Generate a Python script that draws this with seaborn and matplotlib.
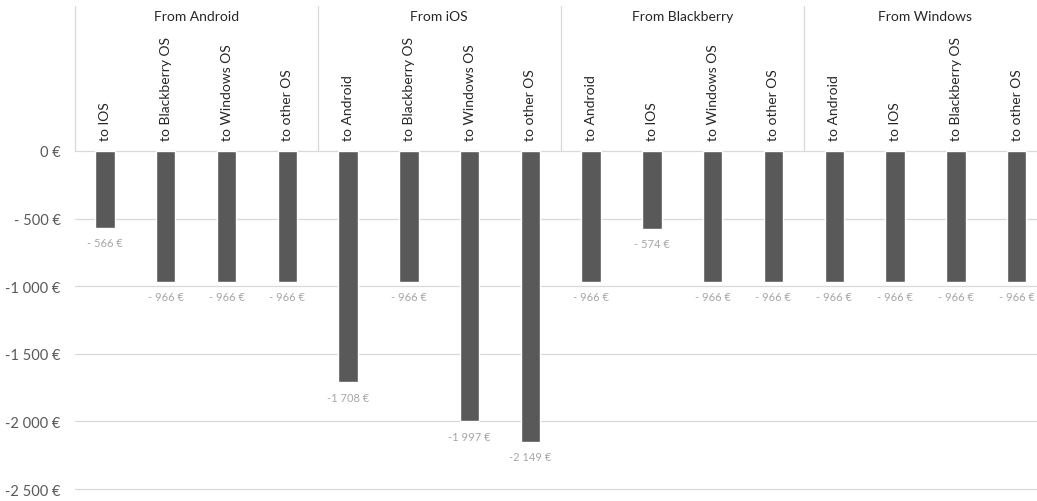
import matplotlib
matplotlib.use("Agg")
import matplotlib.pyplot as plt
import seaborn as sns
import pandas as pd

groups = ["From Android", "From iOS", "From Blackberry", "From Windows"]
targets = [
    ["to IOS", "to Blackberry OS", "to Windows OS", "to other OS"],
    ["to Android", "to Blackberry OS", "to Windows OS", "to other OS"],
    ["to Android", "to IOS", "to Windows OS", "to other OS"],
    ["to Android", "to IOS", "to Blackberry OS", "to other OS"],
]
values = [
    [-566, -966, -966, -966],
    [-1708, -966, -1997, -2149],
    [-966, -574, -966, -966],
    [-966, -966, -966, -966],
]
yticks = [0, -500, -1000, -1500, -2000, -2500]

rows = []
for g, ts, vs in zip(groups, targets, values):
    for t, v in zip(ts, vs):
        rows.append({"group": g, "target": t, "key": f"{g}|{t}", "value": v})
df = pd.DataFrame(rows)


def euro(v):
    a = abs(int(v))
    if a >= 1000:
        s = f"{a // 1000} {a % 1000:03d}"
        return f"-{s} €" if v < 0 else f"{s} €"
    if v == 0:
        return "0 €"
    return f"- {a} €" if v < 0 else f"{a} €"


sns.set_theme(style="white")
plt.rcParams["font.family"] = ["Lato", "DejaVu Sans"]

fig = plt.figure(figsize=(10.37, 5.02), dpi=100)
ax = fig.add_axes([74.6 / 1037, 12 / 502, 1 - 74.6 / 1037, 490 / 502])

sns.barplot(data=df, x="key", y="value", order=list(df["key"]), color="#595959",
            saturation=1, width=0.32, ax=ax, errorbar=None)

ax.set_xlim(-0.5, 15.336)
ax.set_ylim(-2500, 1124)
ax.set_yticks(yticks)
ax.set_yticklabels([euro(v) for v in yticks], color="#595959", fontsize=10.5)
ax.tick_params(axis="y", length=0, pad=10)
ax.set_xticks([])
ax.set_xlabel("")
ax.set_ylabel("")
for s in ax.spines.values():
    s.set_visible(False)
ax.grid(False)
for yv in yticks:
    ax.axhline(yv, color="#D9D9D9", lw=0.9, zorder=0, clip_on=False)

# header separators and labels
for gi, g in enumerate(groups):
    ax.plot([gi * 4 - 0.5, gi * 4 - 0.5], [0, 1072], color="#D9D9D9", lw=0.9,
            zorder=0, clip_on=False)
    ax.text(gi * 4 + 1.5, 998, g, ha="center", va="center", fontsize=10,
            color="#262626")
ax.plot([15.5, 15.5], [0, 1072], color="#D9D9D9", lw=0.9, zorder=0)

for i, (t, v) in enumerate(zip(df["target"], df["value"])):
    ax.text(i, 81, t, rotation=90, ha="center", va="bottom", fontsize=10,
            color="#262626")
    ax.annotate(euro(v), (i, v), xytext=(0, -7), textcoords="offset points",
                ha="center", va="top", fontsize=8, color="#A6A6A6")

fig.savefig("out.png", dpi=100)
